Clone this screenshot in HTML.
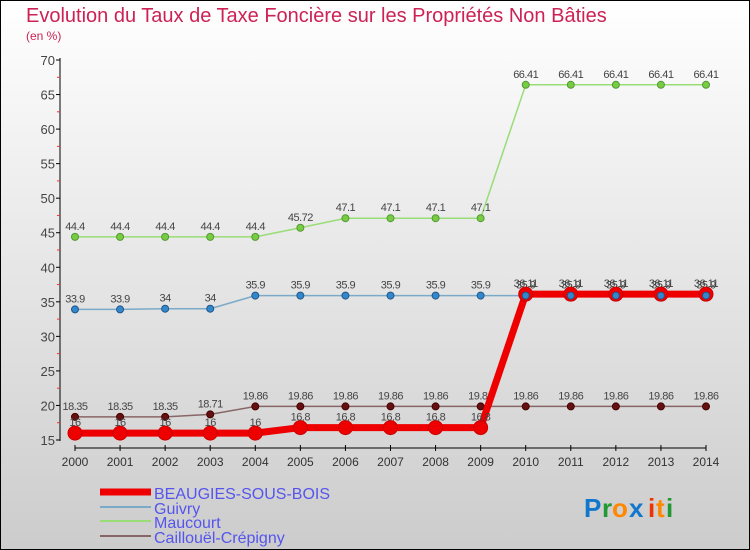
<!DOCTYPE html>
<html><head><meta charset="utf-8"><style>
body{margin:0}
svg{display:block;font-family:"Liberation Sans",sans-serif}
</style></head><body>
<svg width="750" height="550">
<defs><linearGradient id="bg" x1="0" y1="0" x2="0" y2="1"><stop offset="0" stop-color="#ffffff"/><stop offset="1" stop-color="#cccccc"/></linearGradient></defs>
<rect x="0.5" y="0.5" width="749" height="549" fill="url(#bg)" stroke="#000"/>
<text x="26" y="22" font-size="20" fill="#cc2255">Evolution du Taux de Taxe Foncière sur les Propriétés Non Bâties</text>
<text x="26" y="40" font-size="12" fill="#cc2255">(en %)</text>
<g id="axes"></g>
<g id="series"></g>
<g id="legend">
<line x1="100" y1="492" x2="151" y2="492" stroke="#ee0000" stroke-width="7"/>
<text x="154" y="499" font-size="16" fill="#5555ee">BEAUGIES-SOUS-BOIS</text>
<line x1="100" y1="507" x2="151" y2="507" stroke="#7aaac8" stroke-width="2"/>
<text x="154" y="514" font-size="16" fill="#5555ee">Guivry</text>
<line x1="100" y1="521" x2="151" y2="521" stroke="#99dd77" stroke-width="2"/>
<text x="154" y="528" font-size="16" fill="#5555ee">Maucourt</text>
<line x1="100" y1="536" x2="151" y2="536" stroke="#886666" stroke-width="2"/>
<text x="154" y="543" font-size="16" fill="#5555ee">Caillouël-Crépigny</text>
</g>
<g font-size="26" font-weight="bold">
<text x="584" y="517" fill="#1177cc">P</text><text x="602" y="517" fill="#229933">r</text><text x="612" y="517" fill="#ff8800">o</text><text x="629" y="517" fill="#1177cc">x</text><text x="648" y="517" fill="#ee3300">i</text><text x="656" y="517" fill="#ff8800">t</text><text x="666" y="517" fill="#229933">i</text>
</g>
</svg>
<script>
const years=[2000,2001,2002,2003,2004,2005,2006,2007,2008,2009,2010,2011,2012,2013,2014];
const beaugies=[16,16,16,16,16,16.8,16.8,16.8,16.8,16.8,36.11,36.11,36.11,36.11,36.11];
const guivry=[33.9,33.9,34,34,35.9,35.9,35.9,35.9,35.9,35.9,35.9,35.9,35.9,35.9,35.9];
const maucourt=[44.4,44.4,44.4,44.4,44.4,45.72,47.1,47.1,47.1,47.1,66.41,66.41,66.41,66.41,66.41];
const caillouel=[18.35,18.35,18.35,18.71,19.86,19.86,19.86,19.86,19.86,19.86,19.86,19.86,19.86,19.86,19.86];
const yTicks=[15,20,25,30,35,40,45,50,55,60,65,70];
const NS="http://www.w3.org/2000/svg";
const X=i=>75+i*(706-75)/(years.length-1);
const Y=v=>60+(70-v)*(380/55);
function mk(tag,attrs,parent,txt){const e=document.createElementNS(NS,tag);for(const k in attrs)e.setAttribute(k,attrs[k]);if(txt!==undefined)e.textContent=txt;parent.appendChild(e);return e;}
const ax=document.getElementById('axes');
let l=mk('line',{x1:60,y1:58,x2:60,y2:441,stroke:'#000'},ax);


yTicks.forEach(v=>{
 mk('line',{x1:56,y1:Y(v),x2:60,y2:Y(v),stroke:'#000'},ax);
 if(v<70) mk('line',{x1:57,y1:Y(v+2.5),x2:60,y2:Y(v+2.5),stroke:'#ee3333'},ax);
 const t=mk('text',{x:55,y:Y(v)+5,'font-size':13,'text-anchor':'end',fill:'#444'},ax,String(v));
 
 
});
l=mk('line',{x1:X(0),y1:448,x2:X(years.length-1),y2:448,stroke:'#000'},ax);


years.forEach((y,i)=>{
 mk('line',{x1:X(i),y1:445,x2:X(i),y2:451,stroke:'#000'},ax);
 const t=mk('text',{x:X(i),y:466,'font-size':12,'text-anchor':'middle',fill:'#333'},ax,String(y));
 
 
});
const sg=document.getElementById('series');
function series(vals,name,color,w,r,fill,stroke){
 const g=mk('g',{},sg);
 
 
 const p=mk('polyline',{points:vals.map((v,i)=>X(i)+','+Y(v)).join(' '),fill:'none',stroke:color,'stroke-width':w,'stroke-linejoin':'round'},g);
 
 
 vals.forEach((v,i)=>{
  const c=mk('circle',{cx:X(i),cy:Y(v),r:r,fill:fill,stroke:stroke,'stroke-width':1},g);
  
  
  const t=mk('text',{x:X(i),y:Y(v)-7,'font-size':11,'text-anchor':'middle',fill:'#444','letter-spacing':'-0.5'},g,String(v));
  
  
 });
}
series(maucourt,'maucourt','#99dd77',1.5,3.5,'#77cc44','#559933');
series(guivry,'guivry','#7aaac8',1.5,3.5,'#3388cc','#225588');
series(caillouel,'caillouel','#886666',1.5,3.5,'#661111','#440000');
series(beaugies,'beaugies','#ee0000',7,7,'#ee0000','#cc0000');
guivry.forEach((v,i)=>{if(i>=10){const c=mk('circle',{cx:X(i),cy:Y(v),r:3.5,fill:'#3388cc',stroke:'#225588'},sg);

}});
</script>
</body></html>
